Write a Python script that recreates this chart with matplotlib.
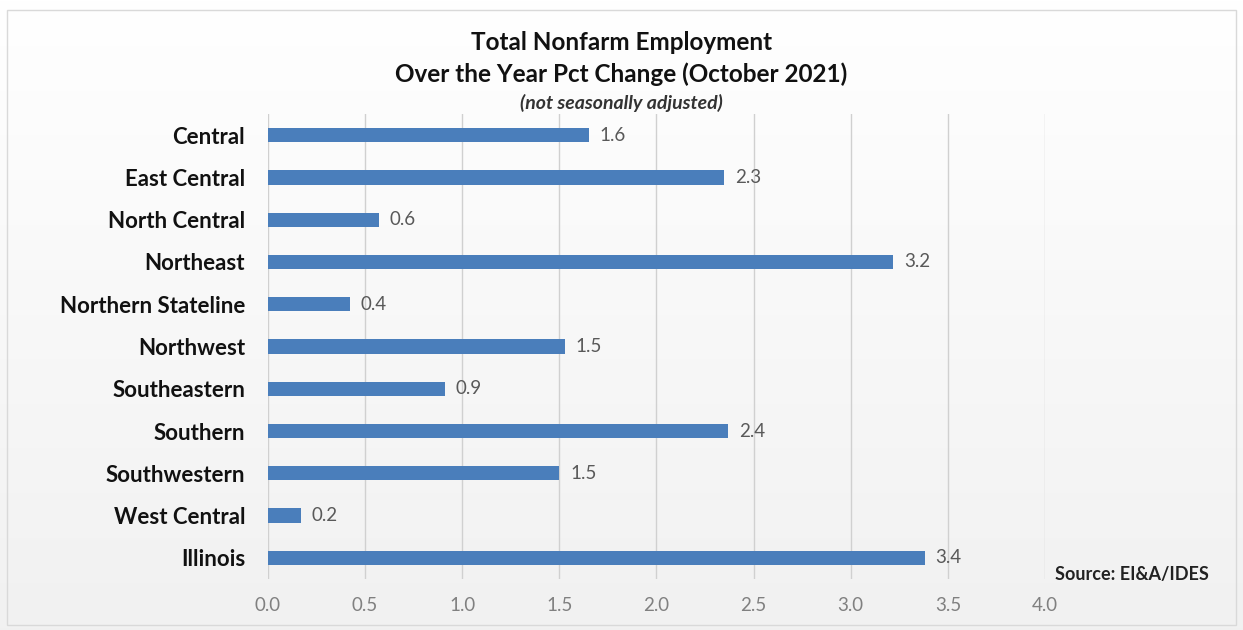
import numpy as np
import matplotlib
matplotlib.use("Agg")
import matplotlib.pyplot as plt

regions = ["Central", "East Central", "North Central", "Northeast", "Northern Stateline",
           "Northwest", "Southeastern", "Southern", "Southwestern", "West Central", "Illinois"]
values = [1.65, 2.35, 0.57, 3.22, 0.42, 1.53, 0.91, 2.37, 1.50, 0.17, 3.38]
value_labels = ["1.6", "2.3", "0.6", "3.2", "0.4", "1.5", "0.9", "2.4", "1.5", "0.2", "3.4"]
xticks = [0.0, 0.5, 1.0, 1.5, 2.0, 2.5, 3.0, 3.5, 4.0]

plt.rcParams['font.family'] = ['Lato', 'DejaVu Sans']

fig = plt.figure(figsize=(12.43, 6.30), dpi=100)

# background gradient
bg = fig.add_axes([0, 0, 1, 1], zorder=-10)
grad = np.linspace(1.0, 0.945, 256).reshape(-1, 1)
bg.imshow(np.dstack([grad, grad, grad]), aspect='auto', extent=[0, 1, 0, 1], origin='upper')
bg.set_xlim(0, 1); bg.set_ylim(0, 1)
bg.axis('off')
bg.add_patch(plt.Rectangle((0.006, 0.008), 0.988, 0.976, fill=False, edgecolor='#d9d9d9', lw=1.0))

ax = fig.add_axes([0.2156, 0.081, 0.6251, 0.738])
ax.patch.set_alpha(0)
y = np.arange(len(regions))
ax.barh(y, values, height=0.34, color='#4a7ebb', zorder=3)
ax.set_ylim(len(regions) - 0.5, -0.5)
ax.set_xlim(0, 4.0)
ax.set_xticks(xticks)
ax.set_xticklabels([f"{t:.1f}" for t in xticks], color='#808080', fontsize=13.5)
ax.set_yticks(y)
ax.set_yticklabels(regions, fontsize=16, fontweight='bold', color='#111111')
ax.tick_params(axis='both', length=0)
ax.tick_params(axis='y', pad=16.5)
ax.tick_params(axis='x', pad=13)
for s in ax.spines.values():
    s.set_visible(False)
ax.grid(axis='x', color='#d0d0d0', lw=1.0, zorder=0)
ax.set_axisbelow(True)

for yi, v, lab in zip(y, values, value_labels):
    ax.text(v + 0.055, yi, lab, va='center', ha='left', fontsize=13.5, color='#595959')

fig.text(0.5, 0.933, "Total Nonfarm Employment", ha='center', va='center',
         fontsize=17.5, fontweight='bold', color='#111111')
fig.text(0.5, 0.8825, "Over the Year Pct Change (October 2021)", ha='center', va='center',
         fontsize=17.5, fontweight='bold', color='#111111')
fig.text(0.5, 0.8365, "(not seasonally adjusted)", ha='center', va='center',
         fontsize=14, style='italic', fontweight='bold', color='#333333')
fig.text(0.849, 0.088, "Source: EI&A/IDES", ha='left', va='center',
         fontsize=13, fontweight='bold', color='#222222')

fig.savefig("out.png", dpi=100)
